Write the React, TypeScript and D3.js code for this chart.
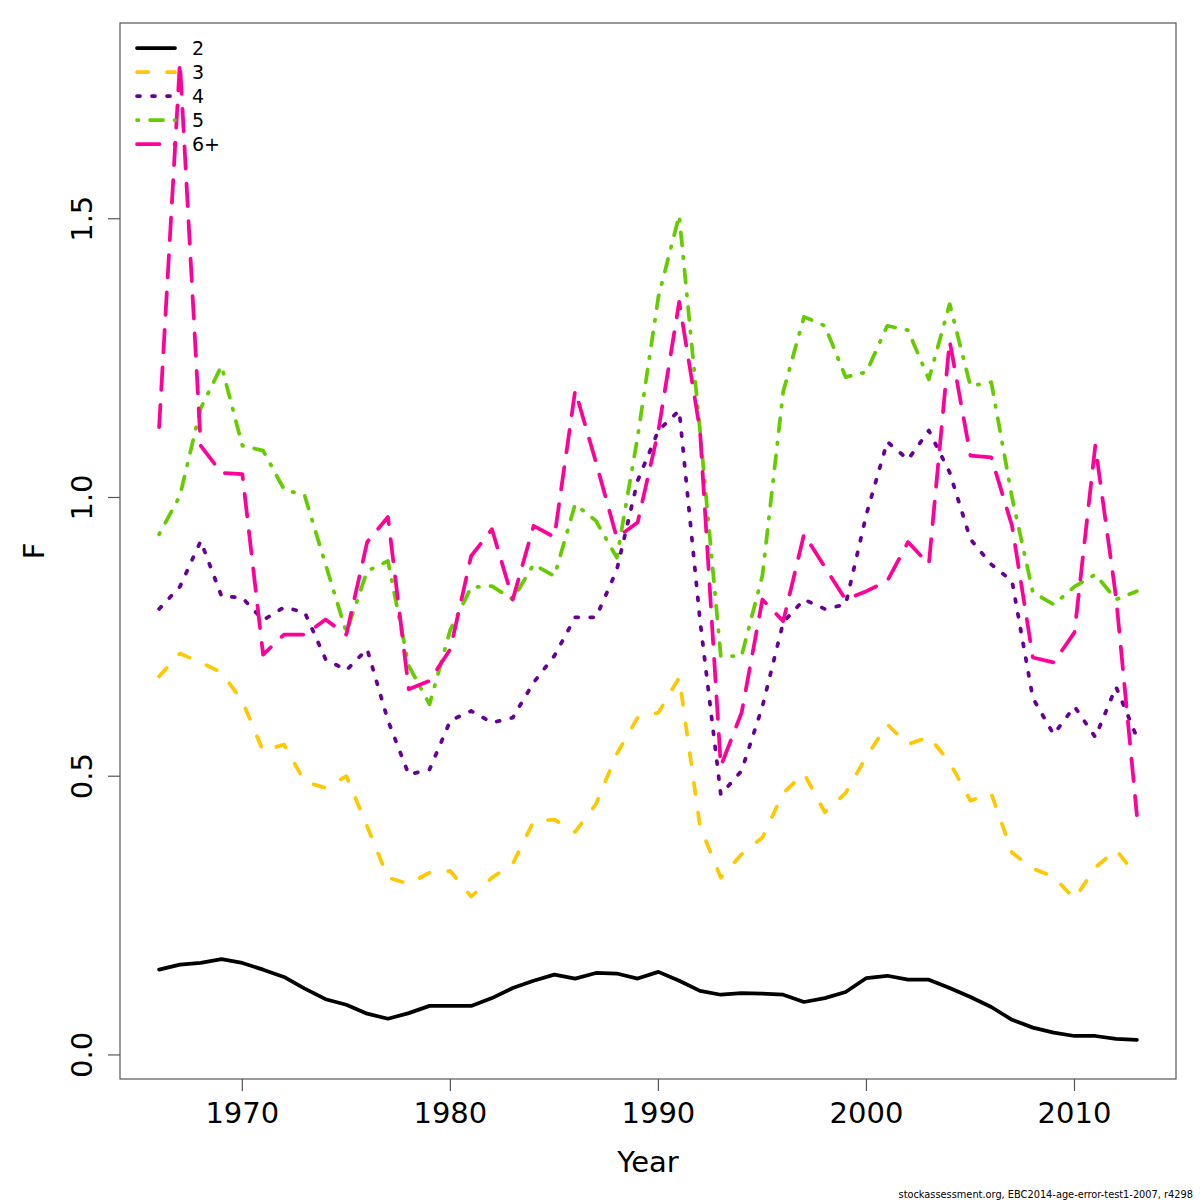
import * as d3 from "d3";

const years = d3.range(1966, 2014);

const age2 = [
  0.153, 0.162, 0.165, 0.172, 0.165, 0.153, 0.14, 0.119, 0.1, 0.09, 0.074, 0.065,
  0.075, 0.088, 0.088, 0.088, 0.102, 0.12, 0.133, 0.144, 0.137, 0.147, 0.146, 0.137,
  0.149, 0.133, 0.115, 0.108, 0.111, 0.11, 0.108, 0.095, 0.102, 0.113, 0.138, 0.142,
  0.135, 0.135, 0.12, 0.104, 0.086, 0.063, 0.049, 0.04, 0.034, 0.034, 0.029, 0.027,
];
const age3 = [
  0.679, 0.72, 0.704, 0.686, 0.635, 0.545, 0.557, 0.49, 0.479, 0.5, 0.41, 0.318,
  0.307, 0.327, 0.33, 0.284, 0.318, 0.343, 0.419, 0.422, 0.4, 0.45, 0.54, 0.605,
  0.614, 0.677, 0.41, 0.318, 0.36, 0.39, 0.47, 0.505, 0.435, 0.47, 0.535, 0.593,
  0.557, 0.571, 0.525, 0.456, 0.469, 0.363, 0.334, 0.32, 0.28, 0.336, 0.368, 0.32,
];
const age4 = [
  0.8, 0.84, 0.922, 0.823, 0.82, 0.78, 0.803, 0.794, 0.71, 0.69, 0.728, 0.6,
  0.503, 0.512, 0.6, 0.617, 0.596, 0.605, 0.668, 0.716, 0.785, 0.785, 0.87, 1.03,
  1.12, 1.156, 0.78, 0.467, 0.51, 0.625, 0.776, 0.817, 0.8, 0.808, 0.97, 1.1,
  1.068, 1.12, 1.045, 0.925, 0.88, 0.85, 0.64, 0.575, 0.625, 0.57, 0.66, 0.57,
];
const age5 = [
  0.934, 1.003, 1.16, 1.236, 1.093, 1.084, 1.015, 1.003, 0.88, 0.758, 0.868, 0.886,
  0.698, 0.629, 0.763, 0.839, 0.841, 0.817, 0.88, 0.859, 0.988, 0.958, 0.892, 1.108,
  1.36, 1.506, 1.12, 0.715, 0.716, 0.86, 1.19, 1.324, 1.308, 1.216, 1.225, 1.308,
  1.3, 1.212, 1.347, 1.2, 1.207, 1.0, 0.83, 0.808, 0.84, 0.862, 0.817, 0.832,
];
const age6 = [
  1.126, 1.781, 1.093, 1.044, 1.042, 0.718, 0.754, 0.754, 0.781, 0.754, 0.92, 0.965,
  0.656, 0.671, 0.728, 0.895, 0.943, 0.817, 0.949, 0.929, 1.192, 1.063, 0.928, 0.955,
  1.12, 1.351, 1.12, 0.518, 0.614, 0.817, 0.778, 0.934, 0.875, 0.817, 0.832, 0.85,
  0.92, 0.88, 1.281, 1.075, 1.072, 0.949, 0.713, 0.704, 0.758, 1.093, 0.82, 0.43,
];

const seriesNames = ["2", "3", "4", "5", "6+"];
const seriesValues = [age2, age3, age4, age5, age6];
const seriesColors = ["#000000", "#ffc800", "#660099", "#66cc00", "#ff0099"];

const xTicks = [1970, 1980, 1990, 2000, 2010];
const yTicks = [0, 0.5, 1, 1.5];
const yTickLabels = ["0.0", "0.5", "1.0", "1.5"];

const W = 1200;
const H = 1200;
const margin = { left: 120, right: 24, top: 23, bottom: 121 };
const lw = 3.75;
// R lty patterns: solid, dashed, dotted, dotdash, longdash (round caps eat into gaps)
const dashes = [
  "none",
  "11.25,18.75",
  "3,12",
  "1.5,11.5,13,11.5",
  "22.5,15",
];
const font = "'DejaVu Sans', sans-serif";

export default function App() {
  const x0 = margin.left;
  const x1 = W - margin.right;
  const y0 = H - margin.bottom;
  const y1 = margin.top;

  const allVals = seriesValues.flat();
  const yMin = d3.min(allVals)!;
  const yMax = d3.max(allVals)!;
  const yPad = (yMax - yMin) * 0.04;
  const xPad = (years[years.length - 1] - years[0]) * 0.04;

  const x = d3
    .scaleLinear()
    .domain([years[0] - xPad, years[years.length - 1] + xPad])
    .range([x0, x1]);
  const y = d3
    .scaleLinear()
    .domain([yMin - yPad, yMax + yPad])
    .range([y0, y1]);

  const line = d3
    .line<number>()
    .x((_, i) => x(years[i]))
    .y((d) => y(d));

  return (
    <svg
      width={W}
      height={H}
      style={{ position: "absolute", left: 0, top: 0, background: "#fff" }}
      fontFamily={font}
    >
      <rect x={0} y={0} width={W} height={H} fill="#fff" />

      {/* series */}
      {seriesValues.map((vals, i) => (
        <path
          key={seriesNames[i]}
          d={line(vals) ?? ""}
          fill="none"
          stroke={seriesColors[i]}
          strokeWidth={lw}
          strokeDasharray={dashes[i]}
          strokeLinecap="round"
          strokeLinejoin="round"
        />
      ))}

      {/* box */}
      <rect
        x={x0}
        y={y1}
        width={x1 - x0}
        height={y0 - y1}
        fill="none"
        stroke="#555"
        strokeWidth={1.2}
      />

      {/* x axis */}
      {xTicks.map((t) => (
        <g key={t}>
          <line x1={x(t)} x2={x(t)} y1={y0} y2={y0 + 12} stroke="#555" strokeWidth={1.2} />
          <text x={x(t)} y={1123} textAnchor="middle" fontSize={29} fill="#000">
            {t}
          </text>
        </g>
      ))}
      <text x={(x0 + x1) / 2} y={1172} textAnchor="middle" fontSize={29} fill="#000">
        Year
      </text>

      {/* y axis */}
      {yTicks.map((t, i) => (
        <g key={t}>
          <line x1={x0 - 12} x2={x0} y1={y(t)} y2={y(t)} stroke="#555" strokeWidth={1.2} />
          <text
            transform={`translate(92,${y(t)}) rotate(-90)`}
            textAnchor="middle"
            fontSize={29}
            fill="#000"
          >
            {yTickLabels[i]}
          </text>
        </g>
      ))}
      <text
        transform={`translate(44,${(y0 + y1) / 2}) rotate(-90)`}
        textAnchor="middle"
        fontSize={29}
        fill="#000"
      >
        F
      </text>

      {/* legend */}
      {seriesNames.map((name, i) => (
        <g key={name} transform={`translate(0,${48 + i * 24})`}>
          <line
            x1={137}
            x2={175}
            y1={0}
            y2={0}
            stroke={seriesColors[i]}
            strokeWidth={lw}
            strokeDasharray={dashes[i]}
            strokeLinecap="round"
          />
          <text x={192} y={7} fontSize={19} fill="#000">
            {name}
          </text>
        </g>
      ))}

      {/* footer */}
      <text x={1193} y={1198} textAnchor="end" fontSize={9.8} fill="#000">
        stockassessment.org, EBC2014-age-error-test1-2007, r4298
      </text>
    </svg>
  );
}
